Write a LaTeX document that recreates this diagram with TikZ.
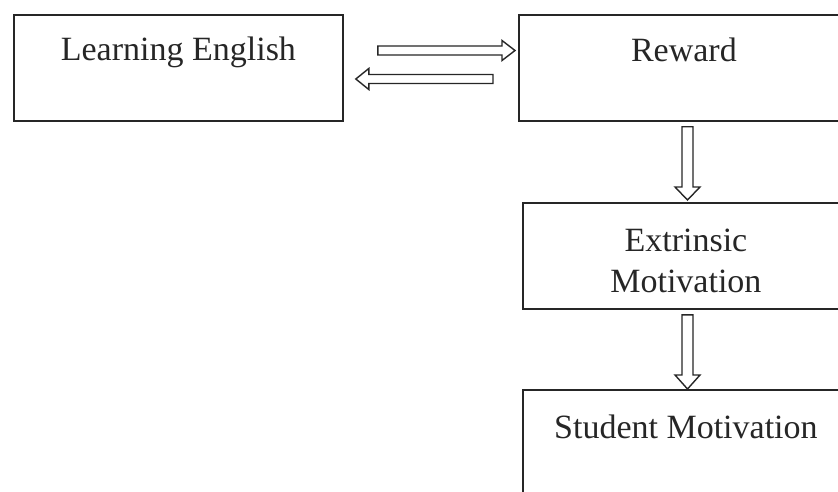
\documentclass[tikz,border=0pt]{standalone}
\usepackage{fontspec}
\setmainfont{Liberation Serif}
\usetikzlibrary{calc}
\tikzset{
  box/.style={draw=black!85, line width=1.8pt, rectangle, inner sep=0pt, anchor=north west},
  lbl/.style={inner sep=0pt, anchor=base, text=black!85, font=\fontsize{34}{41}\selectfont},
  hollow/.style={draw=black!85, line width=1.4pt, fill=white, line join=miter}
}
\begin{document}
\begin{tikzpicture}[x=1pt, y=-1pt]
\useasboundingbox (0,0) rectangle (838,492);
% boxes
\node[box, minimum width=329pt, minimum height=106pt] (learn) at (13,14) {};
\node[box, minimum width=330pt, minimum height=106pt] (reward) at (518,14) {};
\node[box, minimum width=326pt, minimum height=106pt] (extr) at (522,202) {};
\node[box, minimum width=326pt, minimum height=120pt] (stud) at (522,389) {};
% texts
\node[lbl] (learntxt) at ($(learn.north)+(0,47)$) {Learning English};
\node[lbl] (rewardtxt) at ($(reward.north)+(0,47.5)$) {Reward};
\node[lbl] (extrtxt) at ($(extr.north)+(0,49)$) {Extrinsic};
\node[lbl] (extrtxt2) at ($(extrtxt.base)+(0,41)$) {Motivation};
\node[lbl] (studtxt) at ($(stud.north)+(0,49)$) {Student Motivation};
% hollow arrows
\coordinate (ra) at ($(learn.north east)+(34,36.5)$);
\coordinate (rb) at ($(reward.north west)+(-3,36.5)$);
\draw[hollow] ($(ra)+(0,-4.5)$) -- ($(rb)+(-13,-4.5)$) -- ($(rb)+(-13,-10)$) -- (rb)
  -- ($(rb)+(-13,10)$) -- ($(rb)+(-13,4.5)$) -- ($(ra)+(0,4.5)$) -- cycle;
\coordinate (la) at ($(reward.north west)+(-25,65)$);
\coordinate (lb) at ($(learn.north east)+(12,65)$);
\draw[hollow] ($(la)+(0,-4.5)$) -- ($(lb)+(13,-4.5)$) -- ($(lb)+(13,-10.5)$) -- (lb)
  -- ($(lb)+(13,10.5)$) -- ($(lb)+(13,4.5)$) -- ($(la)+(0,4.5)$) -- cycle;
\coordinate (da) at ($(reward.south west)+(169.5,5)$);
\coordinate (db) at ($(extr.north west)+(165.5,-2)$);
\draw[hollow] ($(da)+(-5.5,0)$) -- ($(db)+(-5.5,-13)$) -- ($(db)+(-12.5,-13)$) -- (db)
  -- ($(db)+(12.5,-13)$) -- ($(db)+(5.5,-13)$) -- ($(da)+(5.5,0)$) -- cycle;
\coordinate (ea) at ($(extr.south west)+(165.5,5)$);
\coordinate (eb) at ($(stud.north west)+(165.5,0)$);
\draw[hollow] ($(ea)+(-5.5,0)$) -- ($(eb)+(-5.5,-14)$) -- ($(eb)+(-12.5,-14)$) -- (eb)
  -- ($(eb)+(12.5,-14)$) -- ($(eb)+(5.5,-14)$) -- ($(ea)+(5.5,0)$) -- cycle;
\end{tikzpicture}
\end{document}
